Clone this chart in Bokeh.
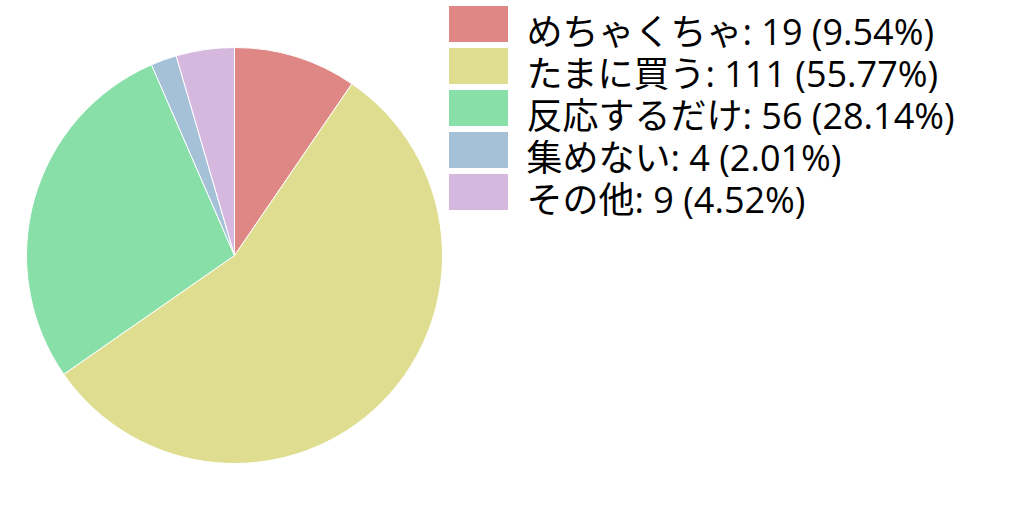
import numpy as np
from bokeh.plotting import figure
from bokeh.models import Range1d, ColumnDataSource
from bokeh.core.properties import value
from bokeh.embed import file_html
from bokeh.resources import INLINE

labels = ["めちゃくちゃ", "たまに買う", "反応するだけ", "集めない", "その他"]
counts = [19, 111, 56, 4, 9]
pct_text = ["9.54", "55.77", "28.14", "2.01", "4.52"]
colors = ["#de8785", "#dedd90", "#88e0a8", "#a4c1d8", "#d6b8de"]

W, H = 1008, 496
p = figure(width=W, height=H, output_backend="svg", toolbar_location=None,
           x_range=Range1d(0, W), y_range=Range1d(0, H), min_border=0)
p.axis.visible = False
p.xgrid.visible = False
p.ygrid.visible = False
p.outline_line_color = None
p.background_fill_color = "white"

total = sum(counts)
fr = np.array(counts, dtype=float) / total
cum = np.concatenate([[0.0], np.cumsum(fr)])
start = np.pi / 2 - 2 * np.pi * cum[:-1]
end = np.pi / 2 - 2 * np.pi * cum[1:]

# page -> plot coords: x = px, y = H - py
cx, cy, r = 234, H - 255, 208
pie_src = ColumnDataSource(dict(start=start, end=end, color=colors))
p.wedge(x=cx, y=cy, radius=r, start_angle="start", end_angle="end",
        direction="clock", fill_color="color", line_color="white",
        line_width=1, source=pie_src)

n = len(labels)
idx = np.arange(n)
top_page = 5 + 42 * idx
sw_top = H - top_page
sw_bot = sw_top - 37
leg_src = ColumnDataSource(dict(
    left=[448] * n, right=[508] * n, top=sw_top, bottom=sw_bot, color=colors,
    tx=[526] * n, ty=sw_bot + 11,
    txt=[f"{l}: {c} ({pc}%)" for l, c, pc in zip(labels, counts, pct_text)],
))
p.quad(left="left", right="right", top="top", bottom="bottom",
       fill_color="color", line_color="white", line_width=1, source=leg_src)
p.text(x="tx", y="ty", text="txt", source=leg_src,
       text_font=value("'Open Sans', 'Noto Sans CJK JP'"), text_font_size="36px",
       text_color="black", text_baseline="alphabetic", text_align="left")

open("out.html", "w").write(file_html(p, INLINE))
